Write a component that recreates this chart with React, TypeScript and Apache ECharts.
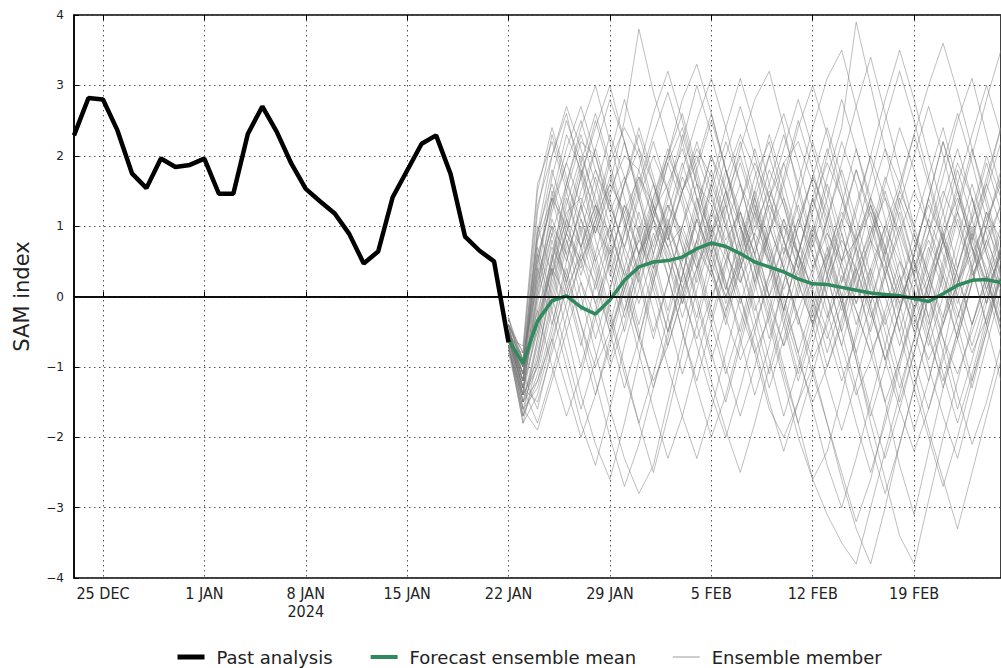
import React, { useEffect, useRef } from "react";
import * as echarts from "echarts";

// Category axis: one entry per day, 23 Dec 2023 .. 25 Feb 2024
const START_DATE = "2023-12-23";
const N_DAYS = 65;
const MONTHS = ["JAN", "FEB", "MAR", "APR", "MAY", "JUN", "JUL", "AUG", "SEP", "OCT", "NOV", "DEC"];

// Tick labels shown on the x axis
const TICK_LABELS = ["25 DEC", "1 JAN", "8 JAN", "15 JAN", "22 JAN", "29 JAN", "5 FEB", "12 FEB", "19 FEB"];
const YEAR_LABEL_AT = "8 JAN";
const YEAR_LABEL = "2024";

const Y_TICKS = [-4, -3, -2, -1, 0, 1, 2, 3, 4];

// Past analysis: 23 Dec .. 22 Jan (daily)
const pastAnalysis = [
  2.29, 2.82, 2.8, 2.36, 1.75, 1.54, 1.96, 1.84, 1.87, 1.96,
  1.46, 1.46, 2.31, 2.7, 2.34, 1.89, 1.53, 1.35, 1.18, 0.89,
  0.47, 0.64, 1.41, 1.79, 2.17, 2.29, 1.74, 0.85, 0.65, 0.5,
  -0.65,
];

// Forecast starts on 22 Jan (category index 30)
const FORECAST_START = 30;

// Forecast ensemble mean: 22 Jan .. 25 Feb
const ensembleMean = [
  -0.62, -0.95, -0.35, -0.06, 0.01, -0.15, -0.25, -0.05, 0.23, 0.42,
  0.49, 0.51, 0.56, 0.68, 0.76, 0.71, 0.61, 0.49, 0.42, 0.35,
  0.25, 0.18, 0.17, 0.13, 0.09, 0.05, 0.03, 0.01, -0.03, -0.07,
  0.04, 0.16, 0.23, 0.24, 0.2,
];

// Ensemble members: 22 Jan .. 25 Feb
const m1 = [-0.6,-1.0,0.5,1.4,2.3,1.8,0.9,1.6,2.5,3.8,2.9,2.2,1.5,1.9,2.6,1.8,1.1,0.6,1.3,0.8,0.2,-0.4,0.3,1.0,1.8,1.2,0.5,-0.2,0.4,1.1,0.6,-0.1,0.5,1.2,0.8];
const m2 = [-0.5,-1.3,-1.8,-1.1,-0.3,0.6,1.2,0.4,-0.5,0.3,1.1,1.9,2.4,1.6,0.8,0.1,0.9,1.7,2.2,1.4,0.6,-0.2,-1.0,-0.4,0.5,1.3,0.7,-0.1,-0.9,-1.6,-0.8,0.2,1.0,0.3,-0.5];
const m3 = [-0.7,-1.5,-0.6,0.4,-0.5,-1.4,-2.1,-2.6,-1.8,-0.9,0.2,1.0,0.4,-0.3,0.6,1.4,2.0,1.3,0.5,-0.3,-1.1,-0.4,0.5,1.1,0.3,-0.6,-1.5,-2.4,-3.1,-2.2,-1.3,-0.5,0.4,1.2,0.5];
const m4 = [-0.4,-0.8,0.9,2.0,2.6,1.7,0.8,0.1,0.9,1.6,2.3,2.9,2.2,1.4,0.6,1.3,2.1,2.8,3.2,2.4,1.5,0.7,1.4,2.2,1.6,0.8,0.0,-0.7,0.1,0.9,1.7,2.5,3.1,2.3,1.5];
const m5 = [-0.6,-1.2,-0.3,0.8,0.1,-0.7,0.2,1.0,0.3,-0.5,-1.3,-0.6,0.3,1.2,2.0,1.5,0.7,-0.1,-0.9,-1.7,-1.0,-0.2,0.6,-0.1,-0.9,-1.8,-2.6,-3.4,-3.8,-2.9,-2.0,-1.2,-0.4,0.3,-0.4];
const m6 = [-0.3,-0.9,0.2,1.2,1.9,1.3,0.5,-0.3,-1.1,-1.8,-2.5,-1.7,-0.8,0.1,0.8,0.2,-0.6,-1.4,-0.7,0.2,1.0,1.7,1.1,0.4,-0.4,0.3,1.0,1.6,2.3,1.6,0.8,0.0,-0.7,0.0,0.7];
const m7 = [-0.8,-1.7,-1.1,-0.2,0.7,1.5,2.1,1.4,0.6,-0.1,0.6,1.3,0.7,0.0,-0.8,-1.5,-0.7,0.1,0.9,1.6,2.4,3.0,2.3,1.5,0.7,-0.1,0.6,1.4,0.8,0.0,-0.8,-1.6,-0.9,-0.1,0.7];
const m8 = [-0.5,-1.1,0.3,1.5,0.8,0.0,-0.8,-1.6,-2.3,-2.8,-2.4,-1.5,-0.6,0.3,1.1,1.8,1.2,0.4,-0.4,-1.2,-2.0,-2.6,-2.2,-1.4,-0.5,0.4,-0.3,-1.1,-1.9,-1.2,-0.3,0.6,1.4,0.7,0.0];
const m9 = [-0.6,-1.0,1.2,2.3,1.6,2.4,3.0,2.2,1.4,0.6,1.3,2.0,2.6,1.8,1.0,0.2,-0.5,0.3,1.1,1.9,1.2,0.4,1.1,1.9,2.7,3.4,2.6,1.8,1.0,1.7,2.4,1.6,0.8,1.5,2.2];
const m10 = [-0.4,-1.4,-1.0,-0.1,0.8,0.2,-0.6,0.1,0.9,1.7,1.1,0.3,-0.5,-1.3,-2.0,-1.4,-0.6,0.2,1.0,0.4,-0.3,-1.1,-1.8,-2.5,-3.2,-2.6,-1.7,-0.9,-0.1,0.7,0.1,-0.6,-1.3,-0.5,0.3];
const m11 = [-0.7,-1.6,-0.8,0.1,1.0,1.8,1.2,2.0,2.8,2.1,1.3,0.5,-0.3,0.4,1.2,2.0,2.7,2.0,1.2,0.4,-0.4,0.3,1.1,1.8,1.1,0.3,-0.5,-1.3,-0.6,0.2,1.0,1.8,1.1,0.3,-0.5];
const m12 = [-0.5,-0.9,0.6,-0.2,-1.0,-1.8,-2.4,-1.6,-0.7,0.1,0.9,0.3,-0.5,-1.2,-0.4,0.4,1.2,0.6,-0.2,-1.0,-1.8,-1.1,-0.3,0.5,1.3,2.0,1.4,0.6,-0.2,-1.0,-1.7,-2.3,-1.5,-0.7,0.1];
const m13 = [-0.6,-1.3,0.0,1.1,0.5,1.3,2.1,2.8,2.2,1.4,0.6,1.4,2.2,3.0,2.3,1.5,0.7,1.4,2.0,1.3,0.5,-0.3,0.5,1.3,2.1,1.4,0.6,1.3,2.0,2.7,2.0,1.2,0.4,-0.4,0.3];
const m14 = [-0.3,-1.1,-1.6,-0.7,0.2,1.0,0.3,-0.5,-1.3,-0.6,0.3,1.1,0.4,-0.4,-1.2,-1.9,-2.5,-1.8,-1.0,-0.2,0.6,1.4,0.8,0.0,-0.8,-1.6,-2.3,-1.6,-0.8,0.0,0.8,1.5,0.9,0.1,-0.6];
const m15 = [-0.7,-1.8,-0.9,0.3,1.3,2.0,1.4,0.6,-0.2,0.5,1.3,0.7,-0.1,0.7,1.5,2.2,1.6,0.8,0.0,0.8,1.6,2.4,3.1,3.5,2.7,1.9,1.1,0.3,-0.5,-1.2,-0.4,0.4,1.2,2.0,1.4];
const m16 = [-0.5,-1.2,0.8,1.8,1.1,0.3,1.0,1.7,1.1,0.3,-0.5,0.2,1.0,0.4,-0.4,-1.1,-0.4,0.4,-0.3,-1.1,-1.8,-2.6,-3.1,-3.5,-3.8,-3.0,-2.2,-1.4,-0.6,0.2,0.9,0.3,-0.4,0.3,1.0];
const m17 = [-0.6,-0.7,1.6,2.2,1.5,0.7,1.5,2.3,1.7,0.9,0.1,-0.7,0.0,0.8,1.6,1.0,0.2,0.9,1.6,2.3,1.6,0.8,0.0,-0.7,0.1,0.9,1.7,1.1,0.3,-0.4,0.4,1.2,2.0,2.8,3.5];
const m18 = [-0.4,-1.5,-1.2,-0.4,0.4,-0.4,-1.2,-2.0,-2.7,-2.1,-1.3,-0.5,0.3,1.1,0.4,-0.3,0.5,1.3,0.6,-0.2,0.6,1.4,2.1,1.4,0.6,-0.2,-0.9,-0.2,0.6,1.4,2.2,1.5,0.7,-0.1,0.6];
const m19 = [-0.8,-1.4,0.4,1.7,2.5,1.9,1.1,0.3,1.0,1.8,2.6,3.2,2.5,1.7,0.9,0.1,0.8,1.5,0.8,0.0,-0.8,-0.1,0.7,0.0,-0.8,-0.1,0.7,1.5,2.3,3.0,3.6,2.9,2.1,1.3,0.5];
const m20 = [-0.5,-1.0,-0.2,-1.0,-1.7,-1.1,-0.3,0.5,1.3,0.6,-0.2,-1.0,-1.7,-2.3,-1.6,-0.8,0.0,-0.7,-1.5,-2.2,-1.5,-0.7,0.1,0.9,0.2,-0.5,0.3,1.0,0.3,-0.5,-1.3,-0.6,0.2,1.0,1.7];
const m21 = [-0.6,-1.1,1.0,0.3,1.1,1.9,2.6,1.9,1.1,0.3,1.1,1.9,1.3,0.5,-0.3,0.5,1.3,2.1,1.4,0.6,1.4,2.2,1.5,0.7,-0.1,0.7,1.5,0.8,0.0,-0.7,0.0,0.8,1.6,0.9,0.1];
const m22 = [-0.4,-1.3,-0.4,0.6,-0.2,-1.0,-0.2,0.7,0.0,-0.8,-1.6,-2.3,-1.7,-0.9,-0.1,0.7,0.0,-0.8,-1.6,-2.0,-1.5,-1.0,-1.8,-2.6,-3.3,-3.8,-3.0,-2.1,-1.3,-0.5,0.3,-0.4,-1.2,-0.5,0.3];
const m23 = [-0.7,-0.8,1.3,2.0,2.7,2.1,1.3,0.5,-0.3,0.4,1.2,2.0,2.8,3.3,2.6,1.8,1.0,0.2,0.9,1.7,2.5,1.8,1.0,0.2,0.9,1.7,2.5,3.2,2.5,1.7,0.9,0.1,0.9,1.7,2.4];
const m24 = [-0.5,-1.6,-1.3,-0.5,0.3,1.1,0.4,-0.4,0.4,1.2,0.5,-0.3,-1.1,-0.4,0.4,1.2,1.9,1.2,0.4,-0.4,-1.2,-0.5,0.3,1.1,1.8,1.1,0.3,-0.5,-1.3,-2.0,-2.7,-2.0,-1.2,-0.4,0.4];
const m25 = [-0.6,-1.2,0.2,1.0,0.2,0.9,1.7,1.0,0.2,-0.6,0.2,1.0,1.8,2.5,3.1,2.4,1.6,0.8,0.0,-0.7,0.1,0.9,1.7,2.4,3.9,3.0,2.1,1.3,0.5,-0.3,0.5,1.3,2.1,1.4,0.6];
const m26 = [-0.3,-1.0,-0.5,0.5,1.4,0.7,-0.1,-0.9,-0.2,0.6,1.4,2.1,1.4,0.6,-0.2,-1.0,-1.7,-1.0,-0.2,0.6,1.3,0.6,-0.2,-1.0,-1.8,-2.5,-1.8,-1.0,-0.2,0.6,1.4,2.1,1.4,0.6,-0.2];
const m27 = [-0.7,-1.7,-0.6,0.5,1.6,2.3,1.6,0.8,1.6,2.4,1.7,0.9,0.1,0.8,1.6,2.4,3.1,2.4,1.6,0.8,0.0,0.8,1.6,0.9,0.1,0.8,1.6,2.4,1.8,1.0,0.2,-0.6,0.2,1.0,1.8];
const m28 = [-0.5,-1.1,0.7,0.0,-0.8,-1.6,-0.9,-0.1,0.7,1.5,2.2,1.5,0.7,-0.1,-0.9,-0.2,0.6,1.4,0.7,-0.1,-0.8,-1.6,-2.4,-3.0,-2.3,-1.5,-0.7,0.1,0.9,0.2,-0.6,-1.4,-2.1,-1.5,-0.7];
const m29 = [-0.6,-1.4,0.1,1.3,2.1,2.7,2.0,1.2,0.4,-0.4,0.4,1.2,1.9,1.2,0.4,-0.4,0.4,1.2,2.0,2.6,1.9,1.1,0.3,-0.5,0.3,1.0,0.3,-0.5,0.3,1.1,1.9,2.6,1.9,1.1,0.3];
const m30 = [-0.4,-0.9,0.4,-0.4,0.5,1.3,0.6,-0.2,-1.0,-1.8,-1.1,-0.3,0.5,1.3,2.0,1.3,0.5,-0.3,-1.1,-0.4,0.4,1.2,2.0,2.8,2.1,1.3,0.5,-0.3,-1.1,-1.9,-2.6,-3.3,-2.5,-1.7,-0.9];
const m31 = [-0.6,-1.5,-1.0,0.0,0.9,1.7,2.4,3.0,2.2,1.4,0.6,-0.2,0.6,1.4,0.7,-0.1,0.7,1.5,2.3,1.6,0.8,0.0,-0.8,-0.1,0.7,-0.1,-0.9,-0.2,0.6,1.4,2.2,1.5,0.7,-0.1,0.7];
const m32 = [-0.5,-1.2,0.5,1.4,0.6,-0.2,0.6,1.4,2.2,1.5,0.7,1.5,2.3,1.6,0.8,1.5,2.2,1.4,0.6,-0.2,0.6,1.4,0.7,-0.1,-0.9,-1.7,-1.0,-0.2,0.6,1.4,0.8,0.0,0.8,1.6,2.4];
const m33 = [-0.7,-1.8,-1.4,-0.6,-1.3,-2.0,-1.4,-0.6,0.2,1.0,0.3,-0.5,0.3,1.1,1.8,1.1,0.3,-0.5,-1.3,-0.6,0.2,1.0,0.3,-0.5,-1.3,-2.1,-2.8,-2.1,-1.3,-0.5,0.3,1.1,0.4,-0.4,-1.2];
const m34 = [-0.4,-0.8,1.5,2.4,1.7,0.9,0.1,0.8,1.6,2.3,1.6,0.8,1.5,2.2,1.5,0.7,-0.1,0.6,1.4,2.1,2.8,2.1,1.3,0.5,1.2,2.0,2.8,3.5,2.8,2.0,1.2,0.4,1.1,1.9,1.2];
const m35 = [-0.6,-1.3,-0.1,0.9,0.2,-0.6,-1.4,-0.7,0.1,0.9,1.6,0.9,0.1,-0.7,-1.4,-2.0,-1.3,-0.5,0.3,1.1,0.4,-0.4,-1.2,-1.9,-1.2,-0.4,0.4,1.2,0.5,-0.3,-1.1,-1.8,-1.1,-0.3,0.5];
const m36 = [-0.5,-1.0,0.9,1.6,0.9,1.7,2.5,1.8,1.0,0.2,-0.6,0.2,1.0,1.8,2.5,1.8,1.0,0.2,-0.6,0.2,1.0,1.7,2.4,1.7,0.9,0.1,-0.7,-1.5,-0.8,0.0,0.8,1.6,2.3,3.0,2.3];
const m37 = [-0.6,-1.1,-0.2,0.5,1.2,1.4,0.9,1.5,2.0,1.8,1.1,0.7,1.0,1.6,1.3,0.6,0.2,0.7,1.4,1.9,2.2,1.6,0.9,0.5,0.8,1.2,0.6,0.0,0.4,0.9,1.5,1.0,0.3,0.7,1.3];
const m38 = [-0.5,-1.4,-0.9,0.2,0.9,0.4,1.1,1.9,2.4,2.0,1.2,1.6,2.1,1.4,0.9,1.3,0.5,-0.2,0.3,1.0,0.6,-0.1,-0.6,0.0,0.7,1.4,0.9,0.2,-0.5,0.1,0.8,0.3,-0.4,0.2,0.9];
const m39 = [-0.7,-1.6,-1.9,-1.2,-0.5,0.2,-0.3,-1.0,-0.4,0.5,1.2,0.8,1.5,2.1,1.7,1.0,0.4,1.1,1.8,1.3,0.6,0.1,-0.5,-1.2,-0.6,0.2,0.9,1.5,1.0,0.3,-0.3,0.4,1.1,1.6,1.0];
const m40 = [-0.4,-0.9,0.3,1.0,0.6,1.2,1.8,1.3,0.7,1.4,2.0,1.5,0.8,0.2,0.9,1.7,2.3,1.8,1.0,0.4,-0.3,-0.9,-0.4,0.3,-0.2,-0.8,-1.5,-0.9,-0.2,0.5,1.2,1.9,1.4,0.6,0.1];
const m41 = [-0.6,-1.3,-0.5,0.6,1.5,2.2,2.0,1.3,0.7,0.2,0.8,1.3,0.9,0.4,1.0,0.5,-0.2,-0.8,-0.3,0.4,1.1,0.6,0.0,-0.7,-1.4,-0.9,-0.2,0.5,0.1,-0.6,-1.2,-0.5,0.2,0.8,0.3];
const m42 = [-0.5,-1.2,0.0,0.7,0.3,-0.4,-1.0,-0.5,0.2,0.8,0.4,1.0,1.7,1.2,0.5,0.0,0.6,1.2,0.7,0.1,0.6,1.3,1.9,1.4,0.8,1.4,2.1,1.6,0.9,0.3,-0.4,0.2,0.9,0.4,-0.3];
const m43 = [-0.6,-1.5,-0.7,0.3,0.9,0.5,-0.1,0.5,1.3,0.9,0.2,-0.5,0.1,0.7,0.3,1.0,1.6,1.1,0.5,-0.2,-0.9,-1.5,-1.0,-0.3,0.4,-0.2,-0.9,-1.6,-2.2,-1.6,-0.9,-0.3,0.4,1.0,0.5];
const m44 = [-0.4,-1.0,0.6,1.3,1.9,2.5,1.8,1.2,1.7,1.1,0.4,0.9,1.5,2.0,1.4,0.8,1.2,0.6,0.0,0.5,1.1,1.7,1.2,0.5,-0.1,0.4,1.0,0.5,-0.2,0.3,0.9,1.4,0.8,0.2,0.7];
const m45 = [-0.7,-1.4,-0.4,0.4,0.0,0.7,1.3,0.8,0.1,-0.6,-1.2,-0.7,0.0,0.6,1.2,0.7,1.3,1.9,1.4,0.8,0.2,-0.4,0.2,0.8,0.4,-0.3,0.3,0.9,1.5,1.0,0.4,-0.2,-0.8,-0.3,0.3];
const m46 = [-0.5,-1.1,-0.3,0.4,1.1,0.7,1.3,0.9,0.3,0.8,1.4,2.0,1.5,0.9,0.4,-0.2,0.4,0.9,0.5,1.1,0.6,0.1,0.6,1.2,0.8,0.2,-0.4,0.2,0.7,1.3,0.8,0.2,0.6,1.1,1.6];
const m47 = [-0.6,-1.7,-1.2,-0.6,0.1,0.6,0.2,-0.5,0.1,0.6,1.1,0.6,0.0,-0.6,0.0,0.5,1.0,0.5,-0.1,-0.7,-0.2,0.4,0.9,0.4,-0.2,-0.8,-0.3,0.3,-0.3,-0.9,-0.4,0.2,0.7,0.2,-0.4];
const m48 = [-0.5,-0.9,0.8,1.4,1.0,0.5,1.1,1.6,1.2,0.6,1.0,0.5,-0.1,0.4,0.9,1.5,1.0,0.4,0.9,1.4,0.8,0.3,-0.3,0.2,0.8,1.3,0.7,0.1,-0.4,0.2,0.7,1.2,0.7,0.1,0.6];
const m49 = [-0.6,-1.3,-1.5,-0.8,-0.1,0.5,1.0,0.6,1.2,1.7,1.3,0.7,0.2,0.8,0.3,-0.3,-0.9,-0.4,0.2,0.7,0.3,0.9,0.4,-0.2,0.3,0.8,0.4,-0.1,0.5,0.0,-0.6,-1.1,-0.5,0.1,0.6];
const m50 = [-0.4,-1.2,0.1,0.9,1.6,1.1,0.5,1.0,1.6,2.1,1.6,1.0,0.5,1.1,0.6,0.0,0.5,1.0,1.5,1.0,0.4,1.0,0.5,-0.1,0.4,0.9,1.4,0.9,0.3,0.8,0.3,-0.3,0.3,0.8,1.3];

const ensembleMembers = [
  m1, m2, m3, m4, m5, m6, m7, m8, m9, m10, m11, m12, m13, m14, m15, m16, m17, m18,
  m19, m20, m21, m22, m23, m24, m25, m26, m27, m28, m29, m30, m31, m32, m33, m34, m35, m36,
  m37, m38, m39, m40, m41, m42, m43, m44, m45, m46, m47, m48, m49, m50,
];

const FONT = "'DejaVu Sans', 'Liberation Sans', sans-serif";
const COND_FONT = "'DejaVu Sans Condensed', 'DejaVu Sans', sans-serif";

const PAST_COLOR = "#000000";
const MEAN_COLOR = "#318a5e";
const MEMBER_COLOR = "rgba(120,120,120,0.48)";

function buildCategories(): string[] {
  const out: string[] = [];
  const d0 = new Date(START_DATE + "T00:00:00Z");
  for (let i = 0; i < N_DAYS; i++) {
    const d = new Date(d0.getTime() + i * 86400000);
    out.push(`${d.getUTCDate()} ${MONTHS[d.getUTCMonth()]}`);
  }
  return out;
}

function pad(values: (number | null)[], offset: number): (number | null)[] {
  const arr: (number | null)[] = [];
  for (let i = 0; i < offset; i++) arr.push(null);
  return arr.concat(values);
}

export default function App() {
  const ref = useRef<HTMLDivElement>(null);

  useEffect(() => {
    if (!ref.current) return;
    const chart = echarts.init(ref.current, undefined, { renderer: "svg" });
    const categories = buildCategories();
    const isTick = (idx: number, value: string) => TICK_LABELS.includes(categories[idx] ?? value);

    const ensembleSeries = ensembleMembers.map((m) => ({
      name: "Ensemble member",
      type: "line",
      data: pad(m, FORECAST_START),
      symbol: "none",
      showSymbol: false,
      silent: true,
      lineStyle: { color: MEMBER_COLOR, width: 1 },
      itemStyle: { color: MEMBER_COLOR },
      z: 2,
    }));

    const hiddenSymbol = { color: "rgba(0,0,0,0)", opacity: 0, borderWidth: 0 };

    const option: any = {
      animation: false,
      backgroundColor: "#ffffff",
      grid: {
        left: 74,
        top: 15,
        width: 928,
        height: 563,
        show: true,
        borderColor: "#000",
        borderWidth: 1.5,
        backgroundColor: "transparent",
        containLabel: false,
      },
      legend: {
        top: 643,
        left: 170,
        itemGap: 36,
        itemWidth: 27,
        itemHeight: 14,
        textStyle: { fontFamily: FONT, fontSize: 18, color: "#222", padding: [0, 0, 0, 7] },
        data: [
          { name: "Past analysis", itemStyle: hiddenSymbol, lineStyle: { color: PAST_COLOR, width: 5 } },
          { name: "Forecast ensemble mean", itemStyle: hiddenSymbol, lineStyle: { color: MEAN_COLOR, width: 4 } },
          { name: "Ensemble member", itemStyle: hiddenSymbol, lineStyle: { color: "#9a9a9a", width: 1 } },
        ],
        selectedMode: false,
      },
      xAxis: [
        {
          type: "category",
          data: categories,
          boundaryGap: false,
          axisLine: { show: true, lineStyle: { color: "#000", width: 1.5 } },
          axisTick: {
            show: true,
            inside: true,
            length: 5,
            interval: isTick,
            lineStyle: { color: "#000", width: 1 },
          },
          axisLabel: {
            interval: isTick,
            margin: 6,
            fontFamily: COND_FONT,
            fontSize: 16,
            color: "#222",
            lineHeight: 18,
            formatter: (v: string) => (v === YEAR_LABEL_AT ? `${v}\n${YEAR_LABEL}` : v),
          },
          splitLine: {
            show: true,
            interval: isTick,
            lineStyle: { color: "#555", width: 1, type: [1.5, 3.5] },
          },
        },
        {
          type: "category",
          data: categories,
          boundaryGap: false,
          position: "top",
          axisLine: { show: false },
          axisTick: {
            show: true,
            inside: true,
            length: 5,
            interval: isTick,
            lineStyle: { color: "#000", width: 1 },
          },
          axisLabel: { show: false },
          splitLine: { show: false },
        },
      ],
      yAxis: {
        type: "value",
        min: Y_TICKS[0],
        max: Y_TICKS[Y_TICKS.length - 1],
        interval: 1,
        name: "SAM index",
        nameLocation: "middle",
        nameGap: 42,
        nameRotate: 90,
        nameTextStyle: { fontFamily: FONT, fontSize: 21, color: "#222" },
        axisLine: { show: true, lineStyle: { color: "#000", width: 1.5 } },
        axisTick: { show: true, inside: true, length: 5, lineStyle: { color: "#000" } },
        axisLabel: {
          margin: 10,
          fontFamily: FONT,
          fontSize: 12,
          color: "#222",
          formatter: (v: number) => (v < 0 ? `\u2212${Math.abs(v)}` : `${v}`),
        },
        splitLine: { show: true, lineStyle: { color: "#555", width: 1, type: [1.5, 3.5] } },
      },
      series: [
        ...ensembleSeries,
        {
          name: "Forecast ensemble mean",
          type: "line",
          data: pad(ensembleMean, FORECAST_START),
          symbol: "none",
          showSymbol: false,
          lineStyle: { color: MEAN_COLOR, width: 3.5 },
          itemStyle: { color: MEAN_COLOR },
          z: 4,
        },
        {
          name: "Past analysis",
          type: "line",
          data: pastAnalysis,
          symbol: "none",
          showSymbol: false,
          lineStyle: { color: PAST_COLOR, width: 4.5 },
          itemStyle: { color: PAST_COLOR },
          z: 5,
          markLine: {
            silent: true,
            symbol: ["none", "none"],
            label: { show: false },
            lineStyle: { color: "#000", width: 1.5, type: "solid" },
            data: [{ yAxis: 0 }],
          },
        },
      ],
    };

    chart.setOption(option);
    return () => chart.dispose();
  }, []);

  return (
    <div
      ref={ref}
      style={{ position: "fixed", left: 0, top: 0, width: 1001, height: 668, background: "#fff" }}
    />
  );
}
